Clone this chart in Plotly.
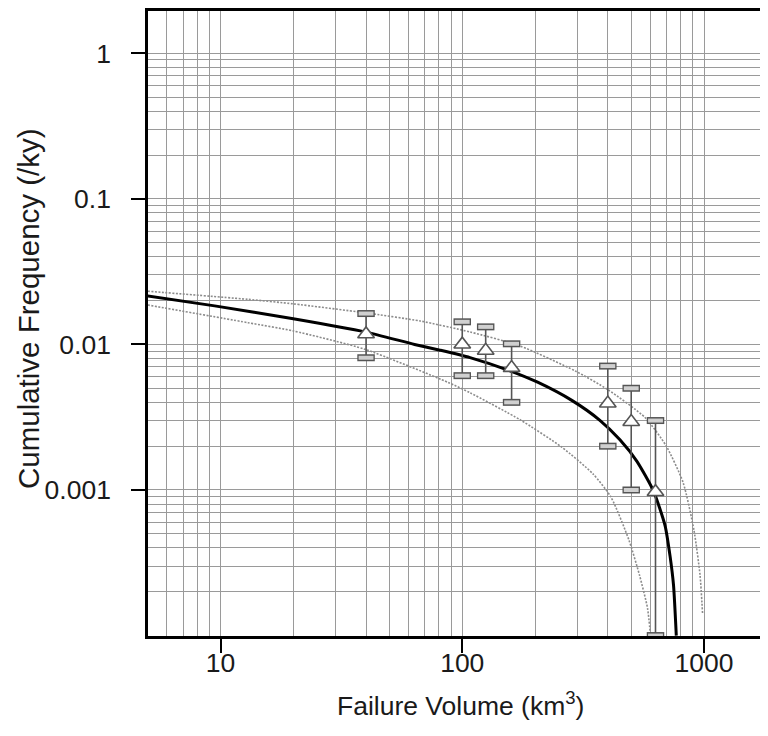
import plotly.graph_objects as go

# ---- data ----
obs_volume = [40, 100, 125, 160, 400, 500, 630]
obs_freq = [0.01176, 0.0100, 0.00907, 0.00691, 0.00394, 0.00294, 0.00097]
obs_hi = [0.0163, 0.0143, 0.0132, 0.0101, 0.0071, 0.0050, 0.0030]
obs_lo = [0.0081, 0.0061, 0.0061, 0.0040, 0.0020, 0.0010, 0.0001]

fit_volume = [5, 9.46, 20, 39.5, 63.5, 80.9, 107.7, 157.6, 205, 285, 371, 449, 527, 617, 690, 724, 748, 768]
fit_freq = [0.0215, 0.0184, 0.0150, 0.0122, 0.0100, 0.00913, 0.00812, 0.00659, 0.0055, 0.00411,
            0.00301, 0.00221, 0.00158, 0.00099, 0.00057, 0.00035, 0.000222, 0.0001]

upper_volume = [5, 13, 20, 39.5, 66.9, 107.7, 173, 293, 401, 570, 696, 819, 909, 963, 986]
upper_freq = [0.0232, 0.0204, 0.0190, 0.0165, 0.01449, 0.01218, 0.00977, 0.00658, 0.00488,
              0.00315, 0.00202, 0.00113, 0.000528, 0.00026, 0.000143]

lower_volume = [5, 13, 20, 39.5, 87.3, 107.7, 173.4, 258.6, 347.4, 412.5, 489.6, 541, 584, 600.6]
lower_freq = [0.01866, 0.0141, 0.01238, 0.00927, 0.00549, 0.004656, 0.00304, 0.001964,
              0.00129, 0.000893, 0.000451, 0.00026, 0.000154, 0.0001]

x_major = [10, 100, 1000]
x_major_text = ["10", "100", "1000"]
y_major = [0.001, 0.01, 0.1, 1]
y_major_text = ["0.001", "0.01", "0.1", "1"]
x_minor = sorted(set([6, 7, 8, 9] + [m * d for d in (10, 100) for m in range(2, 10)]))
y_minor = [1e-4] + [m * d for d in (1e-4, 1e-3, 1e-2, 1e-1) for m in range(2, 10)]

x_title = "Failure Volume (km<sup>3</sup>)"
y_title = "Cumulative Frequency (/ky)"

# ---- figure ----
GRAY = "#555555"
GRID = "#9a9a9a"
FONT = "Liberation Sans, Arial, Helvetica, sans-serif"

# page body has an 8px margin; plot area is placed so it lands at the reference pixels
PLOT_TOP_SCREEN, PLOT_BOTTOM_SCREEN, PLOT_LEFT_SCREEN = 9, 636, 148
PLOT_H = PLOT_BOTTOM_SCREEN - PLOT_TOP_SCREEN
PLOT_W = 768 - (PLOT_LEFT_SCREEN - 8)

fig = go.Figure()

dot_line = dict(color="#8c8c8c", width=1.6, dash="2px,1.5px", shape="spline", smoothing=0.6)
fig.add_trace(go.Scatter(x=upper_volume, y=upper_freq, mode="lines", line=dot_line, hoverinfo="skip"))
fig.add_trace(go.Scatter(x=lower_volume, y=lower_freq, mode="lines", line=dot_line, hoverinfo="skip"))
fig.add_trace(go.Scatter(x=fit_volume, y=fit_freq, mode="lines",
                         line=dict(color="black", width=3, shape="spline", smoothing=0.6),
                         hoverinfo="skip"))

# error bar stems
ex, ey = [], []
for v, lo, hi in zip(obs_volume, obs_lo, obs_hi):
    ex += [v, v, None]
    ey += [lo, hi, None]
fig.add_trace(go.Scatter(x=ex, y=ey, mode="lines", line=dict(color=GRAY, width=1.6),
                         hoverinfo="skip"))

# caps as small rectangles (outer dark + inner light)
cap_x = obs_volume + obs_volume
cap_y = obs_hi + obs_lo
fig.add_trace(go.Scatter(x=cap_x, y=cap_y, mode="markers",
                         marker=dict(symbol="line-ew", size=12.5, line=dict(color=GRAY, width=7)),
                         hoverinfo="skip"))
fig.add_trace(go.Scatter(x=cap_x, y=cap_y, mode="markers",
                         marker=dict(symbol="line-ew", size=10.6, line=dict(color="#d0d0d0", width=4)),
                         hoverinfo="skip"))

# triangles
fig.add_trace(go.Scatter(x=obs_volume, y=obs_freq, mode="markers",
                         marker=dict(symbol="triangle-up", size=14.5, color="white",
                                     line=dict(color=GRAY, width=1.6)),
                         hoverinfo="skip"))

# trace for the right-hand tick axis
fig.add_trace(go.Scatter(x=[10], y=[0.01], yaxis="y2", mode="markers",
                         marker=dict(opacity=0), showlegend=False, hoverinfo="skip"))

y_range = [-4.003, 0.2905]
x_range = [0.7001, 3.2978]

fig.update_layout(
    width=768, height=736,
    margin=dict(l=PLOT_LEFT_SCREEN - 8, r=0, t=PLOT_TOP_SCREEN - 8, b=736 - (PLOT_BOTTOM_SCREEN - 8)),
    paper_bgcolor="white", plot_bgcolor="white",
    showlegend=False,
    font=dict(family=FONT, size=26.5, color="#1a1a1a"),
    xaxis=dict(type="log", range=x_range,
               showline=True, linecolor="black", linewidth=2.5, mirror=True,
               ticks="outside", ticklen=14, tickwidth=2, tickcolor="black",
               tickvals=x_major, ticktext=x_major_text,
               showgrid=True, gridcolor=GRID, gridwidth=1.4,
               minor=dict(tickvals=x_minor, showgrid=True, gridcolor=GRID, gridwidth=1.4, ticks=""),
               zeroline=False, tickfont=dict(size=26.5), ticklabelstandoff=-13),
    yaxis=dict(type="log", range=y_range,
               showline=True, linecolor="black", linewidth=2.5, mirror=False,
               ticks="outside", ticklen=14, tickwidth=2, tickcolor="black",
               tickvals=y_major, ticktext=y_major_text,
               showgrid=True, gridcolor=GRID, gridwidth=1.4,
               minor=dict(tickvals=y_minor, showgrid=True, gridcolor=GRID, gridwidth=1.4, ticks=""),
               zeroline=False, tickfont=dict(size=26.5), ticklabelstandoff=15),
    yaxis2=dict(type="log", range=y_range, overlaying="y", side="right",
                showline=False, showgrid=False, zeroline=False,
                ticks="inside", ticklen=14, tickwidth=2, tickcolor="black",
                tickvals=y_major, ticktext=y_major_text, showticklabels=False),
    annotations=[
        dict(text=x_title, xref="paper", yref="paper",
             x=(460 - PLOT_LEFT_SCREEN) / PLOT_W, y=-(704 - PLOT_BOTTOM_SCREEN) / PLOT_H,
             xanchor="center", yanchor="middle", showarrow=False, font=dict(size=26.5, family=FONT)),
        dict(text=y_title, xref="paper", yref="paper",
             x=(28 - PLOT_LEFT_SCREEN) / PLOT_W, y=(PLOT_BOTTOM_SCREEN - 308) / PLOT_H,
             xanchor="center", yanchor="middle", textangle=-90, showarrow=False,
             font=dict(size=29.5, family=FONT)),
    ],
)

fig.write_html("out.html")
